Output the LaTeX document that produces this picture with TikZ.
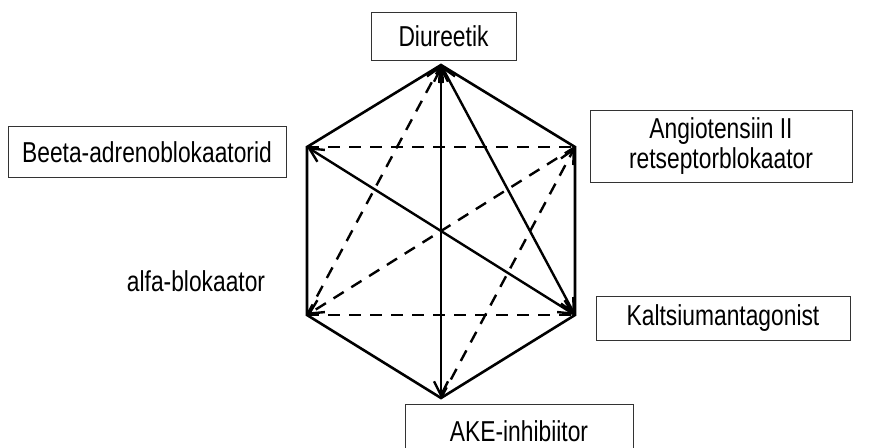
\documentclass[tikz,border=0pt]{standalone}
\usepackage{fontspec}
\usepackage{graphicx}
\setmainfont{Liberation Sans}
\usetikzlibrary{arrows.meta}
\newcommand\tallt[1]{\scalebox{0.95}[1.2]{#1}}
\begin{document}
\begin{tikzpicture}[x=1pt,y=-1pt,
  lbl/.style={draw=black!80,line width=1pt,inner sep=0pt,font=\fontsize{24}{30}\selectfont,align=center},
  txt/.style={font=\fontsize{24}{30}\selectfont},
  edge/.style={line width=2.6pt,line join=miter},
  solidar/.style={line width=2.4pt,{Straight Barb[length=14pt,width=14pt]}-{Straight Barb[length=14pt,width=14pt]}},
  dashar/.style={line width=2.4pt,dash pattern=on 12pt off 9pt}]
\useasboundingbox (0,0) rectangle (875,447);
% labels
\node[lbl,minimum width=145pt,minimum height=48pt] (diu) at (443.5,36) {\tallt{Diureetik}};
\node[lbl,minimum width=278pt,minimum height=51pt] (bee) at (147,152) {\tallt{Beeta-adrenoblokaatorid}};
\node[lbl,minimum width=262pt,minimum height=72pt] (ang) at (721,146) {\tallt{Angiotensiin II}\\\tallt{retseptorblokaator}};
\node[lbl,minimum width=254pt,minimum height=44pt] (kal) at (723,318) {\tallt{Kaltsiumantagonist}};
\node[lbl,minimum width=228pt,minimum height=44pt,anchor=north west] (ake) at (405,404) {};
\node[txt,anchor=center] (akt) at (519,431) {\tallt{AKE-inhibiitor}};
\node[txt] (alf) at (196,281) {\tallt{alfa-blokaator}};
% vertices
\coordinate (T) at (441,65);
\coordinate (UR) at (575,147);
\coordinate (LR) at (575,315);
\coordinate (B) at (441,398);
\coordinate (LL) at (307,315);
\coordinate (UL) at (307,147);
% hexagon
\draw[edge] (T) -- (UR) -- (LR) -- (B) -- (LL) -- (UL) -- cycle;
% dashed
\draw[dashar] (UL) -- (UR);
\draw[dashar] (LL) -- (LR);
\draw[dashar,-{Straight Barb[length=14pt,width=14pt]}] (UR) -- (LL);
\draw[dashar,-{Straight Barb[length=14pt,width=14pt]}] (LL) -- (T);
\draw[dashar,-{Straight Barb[length=14pt,width=14pt]}] (B) -- (UR);
% solid double arrows
\draw[solidar] (T) -- (B);
\draw[solidar] (UL) -- (LR);
\draw[solidar] (T) -- (LR);
\end{tikzpicture}
\end{document}
